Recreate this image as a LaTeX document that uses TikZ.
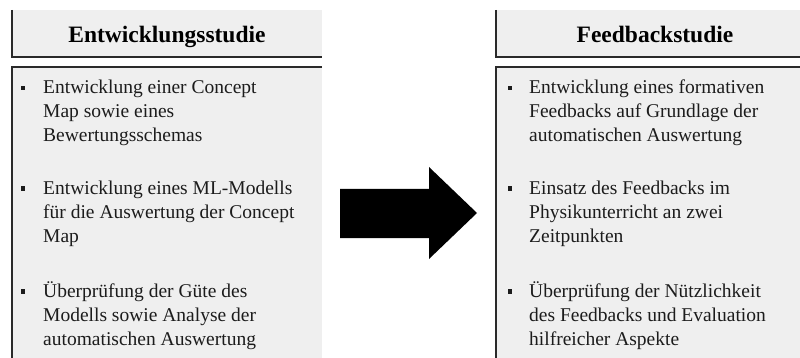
\documentclass[tikz,border=0pt]{standalone}
\usepackage{fontspec}
\setmainfont{Liberation Serif}
\begin{document}
\begin{tikzpicture}[x=1pt,y=-1pt,
  panel/.style={fill=panelgray,draw=none},
  rule/.style={draw=rulegray,line width=1.1pt},
  heading/.style={font=\fontsize{23.5}{28}\selectfont\bfseries,text=black,inner sep=0pt,anchor=base},
  itemline/.style={font=\fontsize{19.5}{24}\selectfont,text=textdark,inner sep=0pt,anchor=base west},
  bullet/.style={fill=textdark,minimum size=4.5pt,inner sep=0pt}]
\definecolor{panelgray}{HTML}{EFEFEF}
\definecolor{rulegray}{HTML}{2A2A2A}
\definecolor{textdark}{HTML}{1C1C1C}
\useasboundingbox (0,0) rectangle (800,358);
\begin{scope}
\clip (0,0) rectangle (800,358);
% left column: header and content panels
\fill[panel] (12,10) rectangle (322,57);
\fill[panel] (12,67) rectangle (322,358);
\draw[rule] (12,10) -- (12,57) -- (322,57);
\draw[rule] (322,67) -- (12,67) -- (12,358);
% right column
\fill[panel] (496,10) rectangle (814,57);
\fill[panel] (496,67) rectangle (814,358);
\draw[rule] (496,10) -- (496,57) -- (814,57);
\draw[rule] (814,67) -- (496,67) -- (496,358);
\end{scope}

\node[heading] (hl) at (167,43) {Entwicklungsstudie};
\node[heading] (hr) at (655,43) {Feedbackstudie};

% left items, one node per printed line
\node[bullet] (bl1) at (23,88) {};
\node[itemline] (l1a) at (43,94) {Entwicklung einer Concept};
\node[itemline] (l1b) at (43,118) {Map sowie eines};
\node[itemline] (l1c) at (43,142) {Bewertungsschemas};
\node[bullet] (bl2) at (23,188.5) {};
\node[itemline] (l2a) at (43,194.5) {Entwicklung eines ML-Modells};
\node[itemline] (l2b) at (43,218.5) {für die Auswertung der Concept};
\node[itemline] (l2c) at (43,242.5) {Map};
\node[bullet] (bl3) at (23,291.5) {};
\node[itemline] (l3a) at (43,297.5) {Überprüfung der Güte des};
\node[itemline] (l3b) at (43,321.5) {Modells sowie Analyse der};
\node[itemline] (l3c) at (43,345.5) {automatischen Auswertung};

% right items
\node[bullet] (br1) at (510,88) {};
\node[itemline] (r1a) at (529,94) {Entwicklung eines formativen};
\node[itemline] (r1b) at (529,118) {Feedbacks auf Grundlage der};
\node[itemline] (r1c) at (529,142) {automatischen Auswertung};
\node[bullet] (br2) at (510,188.5) {};
\node[itemline] (r2a) at (529,194.5) {Einsatz des Feedbacks im};
\node[itemline] (r2b) at (529,218.5) {Physikunterricht an zwei};
\node[itemline] (r2c) at (529,242.5) {Zeitpunkten};
\node[bullet] (br3) at (510,291.5) {};
\node[itemline] (r3a) at (529,297.5) {Überprüfung der Nützlichkeit};
\node[itemline] (r3b) at (529,321.5) {des Feedbacks und Evaluation};
\node[itemline] (r3c) at (529,345.5) {hilfreicher Aspekte};

% block arrow between the two studies
\fill[black] (340,189) -- (429,189) -- (429,167) -- (477,213) -- (429,259) -- (429,238) -- (340,238) -- cycle;
\end{tikzpicture}
\end{document}
